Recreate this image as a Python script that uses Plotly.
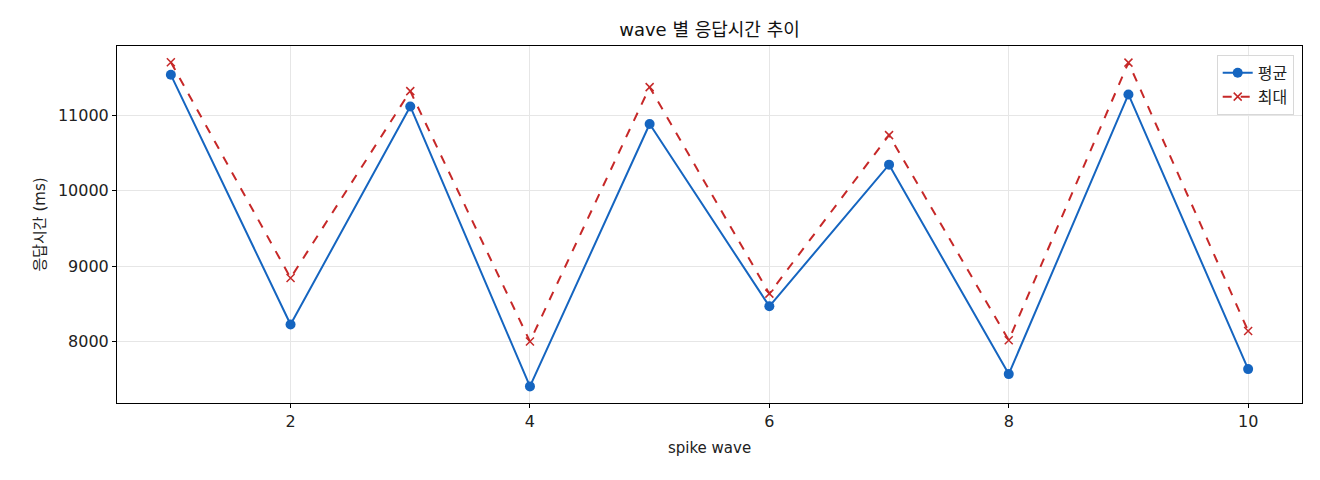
import plotly.graph_objects as go

# wave 번호와 응답시간 (ms)
waves = [1, 2, 3, 4, 5, 6, 7, 8, 9, 10]
avg_ms = [11533, 8225, 11114, 7405, 10881, 8466, 10343, 7568, 11273, 7634]
max_ms = [11700, 8841, 11317, 8000, 11370, 8634, 10734, 8017, 11695, 8140]

x_ticks = [2, 4, 6, 8, 10]
y_ticks = [8000, 9000, 10000, 11000]
y_tick_labels = ['8000', '9000', '10000', '11000']

font_family = "DejaVu Sans, Noto Sans CJK KR, sans-serif"

fig = go.Figure()

fig.add_trace(go.Scatter(x=waves, y=avg_ms, name='평균', mode='lines+markers',
                         line=dict(color='#1565C0', width=2),
                         marker=dict(symbol='circle', size=10, color='#1565C0')))

fig.add_trace(go.Scatter(x=waves, y=max_ms, name='최대', mode='lines+markers',
                         line=dict(color='#C62828', width=2, dash='dash'),
                         marker=dict(symbol='x-thin', size=8,
                                     line=dict(color='#C62828', width=1.5),
                                     color='#C62828')))

# page has an 8px body margin, so margins are shifted to line up
fig.update_layout(
    width=1320, height=480,
    margin=dict(l=109, r=26, t=38, b=85),
    paper_bgcolor='white', plot_bgcolor='white',
    font=dict(family=font_family, size=15, color='#222'),
    title=dict(text='wave 별 응답시간 추이', x=(117 + 1302) / 2 / 1320 - 8 / 1320, xanchor='center',
               y=1 - 22 / 480, yanchor='middle', font=dict(size=18, color='#111')),
    showlegend=True,
    legend=dict(x=0.993, y=0.975, xanchor='right', yanchor='top',
                bgcolor='rgba(255,255,255,0.8)', bordercolor='#d8d8d8', borderwidth=1,
                font=dict(size=16), tracegroupgap=4),
)

fig.update_xaxes(
    range=[0.55, 10.45], tickvals=x_ticks,
    tickfont=dict(size=16),
    title=dict(text='spike wave', font=dict(size=15), standoff=12),
    showline=True, linecolor='black', linewidth=1, mirror=True,
    ticks='outside', ticklen=4, tickcolor='black',
    showgrid=True, gridcolor='#e6e6e6', gridwidth=1, zeroline=False,
)
fig.update_yaxes(
    range=[7185, 11915], tickvals=y_ticks, ticktext=y_tick_labels,
    tickfont=dict(size=16),
    title=dict(text='응답시간 (ms)', font=dict(size=15), standoff=8),
    showline=True, linecolor='black', linewidth=1, mirror=True,
    ticks='outside', ticklen=4, tickcolor='black',
    showgrid=True, gridcolor='#e6e6e6', gridwidth=1, zeroline=False,
)

fig.write_html("out.html")
